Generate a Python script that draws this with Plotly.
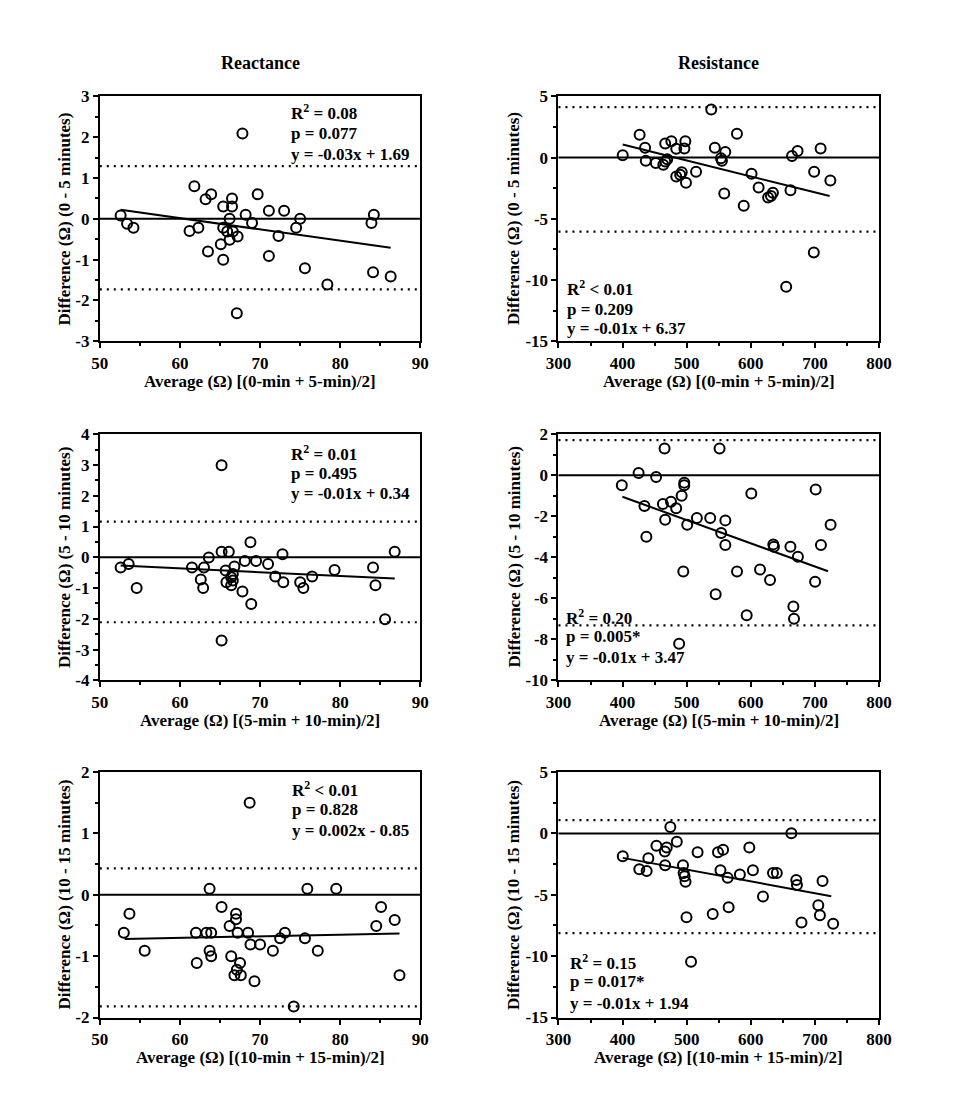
import plotly.graph_objects as go

# ---------------- data ----------------
# Panel 1: Reactance, 0-5 min
rx1_avg = [52.6, 53.4, 54.2, 67.8, 61.8, 63.2, 63.9, 66.5, 65.4, 66.5, 69.7, 71.1, 73.0, 68.2, 66.2,
           69.0, 75.0, 74.5, 84.2, 83.9, 61.2, 62.3, 65.4, 65.9, 66.6, 67.2, 66.2, 72.3, 65.1, 63.5,
           65.4, 71.1, 75.6, 84.1, 86.3, 78.4, 67.1]
rx1_diff = [0.08, -0.12, -0.22, 2.09, 0.80, 0.48, 0.60, 0.50, 0.30, 0.30, 0.60, 0.20, 0.20, 0.10, 0.0,
            -0.10, 0.0, -0.22, 0.10, -0.10, -0.30, -0.22, -0.22, -0.31, -0.31, -0.43, -0.51, -0.42, -0.62, -0.80,
            -1.0, -0.91, -1.21, -1.31, -1.41, -1.61, -2.31]
rx1_fit_x = [52.6, 86.3]
rx1_fit_y = [0.22, -0.71]
rx1_loa = [1.29, -1.73]

# Panel 2: Resistance, 0-5 min
rs1_avg = [538.3, 426.6, 578.4, 435.1, 466.5, 476.1, 497.9, 483.7, 496.4, 543.9, 560.2, 553.5, 555.0,
           400.2, 436.2, 451.8, 463.5, 466.5, 469.6, 492.3, 489.8, 483.7, 498.9, 514.6, 558.6, 601.2,
           612.2, 589.0, 627.0, 631.5, 634.5, 661.9, 664.3, 673.0, 708.9, 698.8, 724.1, 698.3, 655.2]
rs1_diff = [3.93, 1.86, 1.94, 0.80, 1.14, 1.33, 1.33, 0.72, 0.74, 0.80, 0.45, -0.06, -0.27,
            0.18, -0.27, -0.45, -0.59, -0.32, -0.14, -1.20, -1.41, -1.55, -2.05, -1.15, -2.93, -1.33,
            -2.45, -3.94, -3.25, -3.14, -2.87, -2.66, 0.13, 0.53, 0.74, -1.15, -1.87, -7.74, -10.54]
rs1_fit_x = [400.2, 723.0]
rs1_fit_y = [1.06, -3.14]
rs1_loa = [4.12, -6.04]

# Panel 3: Reactance, 5-10 min
rx2_avg = [65.2, 68.8, 65.2, 66.1, 63.6, 72.8, 86.8, 52.6, 53.6, 54.6, 61.5, 63.0, 62.6, 62.9, 65.7,
           66.8, 66.6, 66.4, 65.8, 66.4, 66.6, 68.1, 69.5, 71.0, 67.8, 68.9, 71.9, 72.9, 75.0, 75.4,
           76.5, 79.3, 84.1, 84.4, 85.6, 65.2]
rx2_diff = [2.99, 0.49, 0.18, 0.18, -0.01, 0.10, 0.18, -0.33, -0.22, -1.0, -0.33, -0.33, -0.72, -1.0, -0.43,
            -0.30, -0.54, -0.65, -0.81, -0.91, -0.75, -0.12, -0.12, -0.22, -1.11, -1.52, -0.62, -0.81, -0.81, -1.0,
            -0.62, -0.41, -0.33, -0.91, -2.01, -2.70]
rx2_fit_x = [52.6, 86.8]
rx2_fit_y = [-0.27, -0.69]
rx2_loa = [1.16, -2.11]

# Panel 4: Resistance, 5-10 min
rs2_avg = [465.5, 551.3, 425.0, 452.3, 398.8, 496.2, 496.2, 492.1, 434.1, 462.9, 475.5, 483.6, 466.4,
           500.8, 515.9, 536.7, 560.3, 553.8, 560.3, 437.1, 600.8, 635.1, 636.1, 661.8, 673.5, 701.2,
           724.5, 709.4, 494.7, 578.5, 614.4, 630.0, 700.3, 545.2, 593.6, 666.4, 667.4, 488.2]
rs2_diff = [1.30, 1.30, 0.11, -0.09, -0.49, -0.36, -0.49, -1.0, -1.50, -1.40, -1.29, -1.61, -2.17,
            -2.41, -2.09, -2.09, -2.20, -2.81, -3.40, -3.0, -0.89, -3.37, -3.48, -3.48, -3.97, -0.70,
            -2.41, -3.40, -4.69, -4.69, -4.60, -5.11, -5.19, -5.80, -6.82, -6.40, -6.99, -8.21]
rs2_fit_x = [399.7, 720.5]
rs2_fit_y = [-1.05, -4.68]
rs2_loa = [1.71, -7.32]

# Panel 5: Reactance, 10-15 min
rx3_avg = [68.7, 63.7, 75.9, 79.5, 53.7, 53.0, 55.6, 65.2, 67.0, 67.0, 66.2, 62.0, 63.3, 63.9, 67.2,
           68.5, 73.1, 72.5, 75.6, 68.8, 70.0, 71.6, 77.2, 63.7, 63.9, 66.4, 62.1, 67.5, 67.1, 66.8,
           67.6, 69.3, 85.1, 86.8, 84.5, 87.4, 74.2]
rx3_diff = [1.50, 0.10, 0.10, 0.10, -0.31, -0.62, -0.91, -0.20, -0.31, -0.40, -0.51, -0.62, -0.62, -0.62, -0.62,
            -0.62, -0.62, -0.71, -0.71, -0.81, -0.81, -0.91, -0.91, -0.91, -1.0, -1.0, -1.11, -1.11, -1.22, -1.31,
            -1.31, -1.41, -0.20, -0.41, -0.51, -1.31, -1.82]
rx3_fit_x = [53.1, 87.4]
rx3_fit_y = [-0.72, -0.63]
rx3_loa = [0.43, -1.82]

# Panel 6: Resistance, 10-15 min
rs3_avg = [474.5, 663.3, 452.8, 468.9, 465.9, 484.6, 517.0, 548.8, 556.8, 597.7, 400.3, 440.2, 426.1,
           437.6, 466.4, 494.2, 495.2, 496.7, 498.2, 552.7, 563.9, 583.0, 603.3, 634.6, 640.6, 670.9,
           672.0, 711.9, 619.0, 705.3, 707.8, 565.4, 540.6, 499.7, 679.1, 728.5, 506.8]
rs3_diff = [0.52, 0.01, -1.0, -1.14, -1.48, -0.68, -1.54, -1.54, -1.32, -1.14, -1.86, -2.02, -2.92,
            -3.06, -2.60, -2.60, -3.22, -3.48, -3.94, -3.0, -3.62, -3.35, -3.0, -3.22, -3.22, -3.80,
            -4.20, -3.88, -5.14, -5.86, -6.66, -6.02, -6.56, -6.82, -7.25, -7.36, -10.45]
rs3_fit_x = [400.3, 725.5]
rs3_fit_y = [-1.99, -5.11]
rs3_loa = [1.08, -8.13]

# tick values
react_x_ticks = [50, 60, 70, 80, 90]
resist_x_ticks = [300, 400, 500, 600, 700, 800]
y_ticks_1 = [-3, -2, -1, 0, 1, 2, 3]
y_ticks_2 = [-15, -10, -5, 0, 5]
y_ticks_3 = [-4, -3, -2, -1, 0, 1, 2, 3, 4]
y_ticks_4 = [-10, -8, -6, -4, -2, 0, 2]
y_ticks_5 = [-2, -1, 0, 1, 2]
y_ticks_6 = [-15, -10, -5, 0, 5]

col_titles = ["Reactance", "Resistance"]
x_titles = ["Average (Ω) [(0-min + 5-min)/2]",
            "Average (Ω) [(5-min + 10-min)/2]",
            "Average (Ω) [(10-min + 15-min)/2]"]
y_titles = ["Difference (Ω) (0 - 5 minutes)",
            "Difference (Ω) (5 - 10 minutes)",
            "Difference (Ω) (10 - 15 minutes)"]
stats = [
    ["R<sup>2</sup> = 0.08", "p = 0.077", "y = -0.03x + 1.69"],
    ["R<sup>2</sup> < 0.01", "p = 0.209", "y = -0.01x + 6.37"],
    ["R<sup>2</sup> = 0.01", "p = 0.495", "y = -0.01x + 0.34"],
    ["R<sup>2</sup> = 0.20", "p = 0.005*", "y = -0.01x + 3.47"],
    ["R<sup>2</sup> < 0.01", "p = 0.828", "y = 0.002x - 0.85"],
    ["R<sup>2</sup> = 0.15", "p = 0.017*", "y = -0.01x + 1.94"],
]

# ---------------- layout geometry (pixels) ----------------
W, H = 956, 1106
FONT = "Liberation Serif"
col_px = [(81.0, 410.5), (552.5, 882.0)]
row_px = [(80.7, 330.0), (424.5, 675.0), (768.3, 1018.0)]

panels = [
    dict(avg=rx1_avg, diff=rx1_diff, fx=rx1_fit_x, fy=rx1_fit_y, loa=rx1_loa,
         xt=react_x_ticks, xm=5, yt=y_ticks_1, ym=0.5, row=0, col=0,
         stat_px=(275, [96.7, 118.3, 140.0])),
    dict(avg=rs1_avg, diff=rs1_diff, fx=rs1_fit_x, fy=rs1_fit_y, loa=rs1_loa,
         xt=resist_x_ticks, xm=50, yt=y_ticks_2, ym=2.5, row=0, col=1,
         stat_px=(559, [275.7, 297.3, 317.3])),
    dict(avg=rx2_avg, diff=rx2_diff, fx=rx2_fit_x, fy=rx2_fit_y, loa=rx2_loa,
         xt=react_x_ticks, xm=5, yt=y_ticks_3, ym=0.5, row=1, col=0,
         stat_px=(275, [443.3, 464.3, 485.0])),
    dict(avg=rs2_avg, diff=rs2_diff, fx=rs2_fit_x, fy=rs2_fit_y, loa=rs2_loa,
         xt=resist_x_ticks, xm=50, yt=y_ticks_4, ym=1, row=1, col=1,
         stat_px=(558, [610.0, 630.0, 651.7])),
    dict(avg=rx3_avg, diff=rx3_diff, fx=rx3_fit_x, fy=rx3_fit_y, loa=rx3_loa,
         xt=react_x_ticks, xm=5, yt=y_ticks_5, ym=0.5, row=2, col=0,
         stat_px=(276.7, [786.0, 806.7, 827.7])),
    dict(avg=rs3_avg, diff=rs3_diff, fx=rs3_fit_x, fy=rs3_fit_y, loa=rs3_loa,
         xt=resist_x_ticks, xm=50, yt=y_ticks_6, ym=2.5, row=2, col=1,
         stat_px=(562.7, [961.7, 981.7, 1003.3])),
]

fig = go.Figure()
shapes = []
annotations = []
layout = {}

tickfont = dict(family=FONT, size=17, color="black", weight="bold")
textfont = dict(family=FONT, size=17, color="black", weight="bold")

def axis_style(tv, mdt, dom, anchor):
    return dict(range=[tv[0], tv[-1]], tickmode="array", tickvals=tv,
                ticktext=[str(v) for v in tv], domain=dom, anchor=anchor,
                showline=True, linecolor="black", linewidth=2, mirror=True,
                ticks="outside", ticklen=5, tickwidth=2, tickcolor="black",
                showgrid=False, zeroline=False, tickfont=tickfont,
                minor=dict(ticks="outside", ticklen=3, tickwidth=1.5, tickcolor="black",
                           dtick=mdt, tick0=tv[0], showgrid=False),
                fixedrange=True)

for i, p in enumerate(panels):
    n = "" if i == 0 else str(i + 1)
    xa, ya = "x" + n, "y" + n
    c0, c1 = col_px[p["col"]]
    r0, r1 = row_px[p["row"]]
    xdom = [c0 / W, c1 / W]
    ydom = [1 - r1 / H, 1 - r0 / H]
    layout["xaxis" + n] = axis_style(p["xt"], p["xm"], xdom, ya)
    layout["yaxis" + n] = axis_style(p["yt"], p["ym"], ydom, xa)

    fig.add_trace(go.Scatter(x=p["avg"], y=p["diff"], mode="markers", xaxis=xa, yaxis=ya,
                             marker=dict(symbol="circle-open", size=10, color="black",
                                         line=dict(width=2, color="black")),
                             showlegend=False, hoverinfo="x+y"))
    fig.add_trace(go.Scatter(x=p["fx"], y=p["fy"], mode="lines", xaxis=xa, yaxis=ya,
                             line=dict(color="black", width=2), showlegend=False, hoverinfo="skip"))
    # zero line
    shapes.append(dict(type="line", xref=xa + " domain", yref=ya, x0=0, x1=1, y0=0, y1=0,
                       line=dict(color="black", width=2), layer="below"))
    # limits of agreement
    for v in p["loa"]:
        shapes.append(dict(type="line", xref=xa + " domain", yref=ya, x0=0, x1=1, y0=v, y1=v,
                           line=dict(color="black", width=2.2, dash="2px,5px"), layer="below"))
    # stats text
    sx, sys_ = p["stat_px"]
    for txt, sy in zip(stats[i], sys_):
        annotations.append(dict(text=txt, xref="paper", yref="paper", x=sx / W, y=1 - sy / H,
                                xanchor="left", yanchor="middle", showarrow=False, font=textfont))
    # axis titles
    annotations.append(dict(text=x_titles[p["row"]], xref="paper", yref="paper",
                            x=(c0 + c1) / 2 / W, y=1 - (r1 + 41) / H,
                            xanchor="center", yanchor="middle", showarrow=False, font=textfont))
    ytx = 45 if p["col"] == 0 else 507
    annotations.append(dict(text=y_titles[p["row"]], xref="paper", yref="paper",
                            x=ytx / W, y=1 - (r0 + r1) / 2 / H, textangle=-90,
                            xanchor="center", yanchor="middle", showarrow=False, font=textfont))

for j, t in enumerate(col_titles):
    c0, c1 = col_px[j]
    annotations.append(dict(text=t, xref="paper", yref="paper", x=(c0 + c1) / 2 / W, y=1 - 47 / H,
                            xanchor="center", yanchor="middle", showarrow=False,
                            font=dict(family=FONT, size=18, color="black", weight="bold")))

fig.update_layout(width=W, height=H, autosize=False, margin=dict(l=0, r=0, t=0, b=0),
                  paper_bgcolor="white", plot_bgcolor="white",
                  shapes=shapes, annotations=annotations, **layout)

fig.write_html("out.html")
